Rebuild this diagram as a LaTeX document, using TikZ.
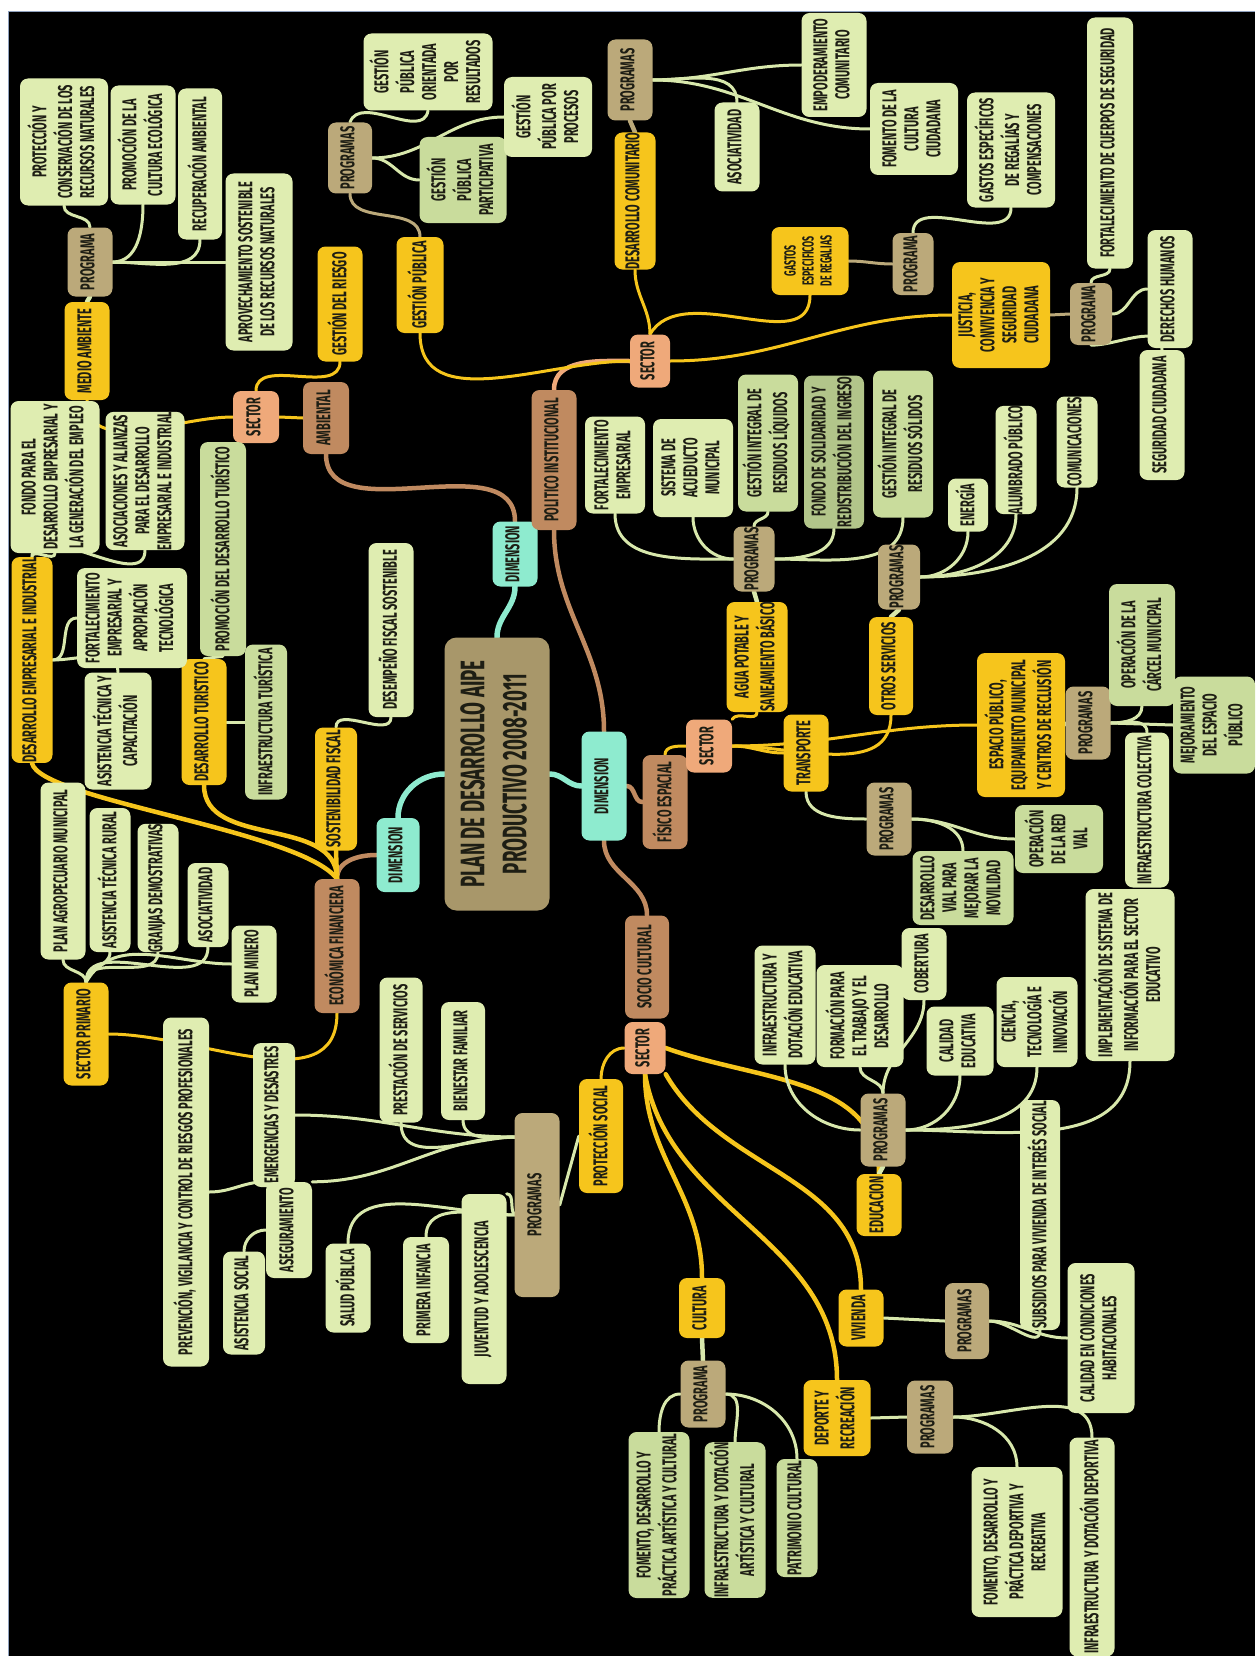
\documentclass[tikz,border=0pt]{standalone}
\usepackage{fontspec}
\usepackage{graphicx}
\newfontfamily\mapfont{Fira Sans}[FakeStretch=0.55]
\usetikzlibrary{backgrounds}
\definecolor{leafA}{HTML}{DFEDB1}
\definecolor{leafB}{HTML}{C9DC9C}
\definecolor{leafC}{HTML}{B2C58A}
\definecolor{tan}{HTML}{BBA97A}
\definecolor{rootc}{HTML}{A8976A}
\definecolor{gold}{HTML}{F6C51C}
\definecolor{salmon}{HTML}{EFA97A}
\definecolor{brownc}{HTML}{C08A60}
\definecolor{aqua}{HTML}{8EEBCF}
\definecolor{ink}{HTML}{1E1E14}
\definecolor{frame}{HTML}{8FA1BE}
\definecolor{pale}{HTML}{D8E8AC}
\newcommand{\vt}[1]{\rotatebox{90}{\begin{tabular}{@{}c@{}}#1\end{tabular}}}

\begin{document}
\begin{tikzpicture}[x=1pt, y=1pt,
    box/.style={rounded corners=8pt, inner sep=0pt, text=ink,
        font=\mapfont\bfseries\fontsize{20}{22}\selectfont},
    sz/.style 2 args={minimum width=#1pt, minimum height=#2pt},
    leaf/.style={box, fill=leafA},
    leafb/.style={box, fill=leafB},
    leafc/.style={box, fill=leafC},
    prog/.style={box, fill=tan},
    area/.style={box, fill=gold},
    sector/.style={box, fill=salmon},
    branch/.style={box, fill=brownc},
    dimbox/.style={box, fill=aqua},
    rootbox/.style={box, fill=rootc, rounded corners=12pt,
        font=\mapfont\bfseries\fontsize{34}{42}\selectfont},
    conn/.style={draw=#1, line width=3pt, line cap=round},
    thick conn/.style={draw=#1, line width=4.5pt, line cap=round}
]
\useasboundingbox (0,0) rectangle (1255,-1656);
\begin{scope}[on background layer]
    \fill[white] (0,0) rectangle (1255,-1656);
    \fill[black] (8.5,-11.5) rectangle (1255,-1656);
    \draw[frame, line width=1.5pt] (8.5,-1656) -- (8.5,-11.5) -- (1255,-11.5);
\end{scope}

% centre and dimensions
\node[rootbox, sz={105}{273}] (root) at (497,-774) {\vt{PLAN DE DESARROLLO AIPE\\PRODUCTIVO 2008-2011}};
\node[dimbox, sz={45}{65}] (dimA) at (515,-554) {\vt{DIMENSION}};
\node[dimbox, sz={45}{109}] (dimB) at (604,-786) {\vt{DIMENSION}};
\node[dimbox, sz={43}{74}] (dimC) at (398,-855) {\vt{DIMENSION}};

% ambiental
\node[branch, sz={46}{72}] (amb) at (326,-418) {\vt{AMBIENTAL}};
\node[sector, sz={46}{52}] (secAm) at (256,-417) {\vt{SECTOR}};
\node[area, sz={45}{98}] (medA) at (87,-351) {\vt{MEDIO AMBIENTE}};
\node[area, sz={45}{115}] (gesR) at (340,-304) {\vt{GESTIÓN DEL RIESGO}};
\node[prog, sz={45}{69}] (progAm) at (90,-262) {\vt{PROGRAMA}};
\node[leaf, sz={88}{127}] (protR) at (64,-142) {\vt{PROTECCIÓN Y\\CONSERVACIÓN DE LOS\\RECURSOS NATURALES}};
\node[leaf, sz={65}{119}] (promC) at (143,-145) {\vt{PROMOCIÓN DE LA\\CULTURA ECOLÓGICA}};
\node[leaf, sz={44}{151}] (recA) at (200,-164) {\vt{RECUPERACIÓN AMBIENTAL}};
\node[leaf, sz={67}{177}] (aprov) at (259,-262) {\vt{APROVECHAMIENTO SOSTENIBLE\\DE LOS RECURSOS NATURALES}};

% politico institucional
\node[branch, sz={45}{140}] (polI) at (554,-460) {\vt{POLITICO INSTITUCIONAL}};
\node[sector, sz={40}{53}] (secP) at (650,-361) {\vt{SECTOR}};
\node[area, sz={47}{96}] (gesP) at (420,-285) {\vt{GESTIÓN PÚBLICA}};
\node[prog, sz={44}{71}] (progP) at (350,-158) {\vt{PROGRAMAS}};
\node[leaf, sz={129}{77}] (ori) at (428,-72) {\vt{GESTIÓN\\PÚBLICA\\ORIENTADA\\POR\\RESULTADOS}};
\node[leafb, sz={87}{86}] (par) at (463,-180) {\vt{GESTIÓN\\PÚBLICA\\PARTICIPATIVA}};
\node[leaf, sz={88}{80}] (proc) at (548,-117) {\vt{GESTIÓN\\PÚBLICA POR\\PROCESOS}};
\node[area, sz={41}{136}] (desC) at (635,-201) {\vt{DESARROLLO COMUNITARIO}};
\node[prog, sz={45}{81}] (progC) at (630,-80) {\vt{PROGRAMAS}};
\node[leaf, sz={45}{89}] (aso) at (737,-147) {\vt{ASOCIATIVIDAD}};
\node[leaf, sz={65}{104}] (emp) at (834,-65) {\vt{EMPODERAMIENTO\\COMUNITARIO}};
\node[leaf, sz={88}{92}] (fomC) at (914,-129) {\vt{FOMENTO DE LA\\CULTURA\\CIUDADANA}};
\node[area, sz={77}{68}, font=\mapfont\bfseries\fontsize{16}{18}\selectfont] (gasR) at (810,-261) {\vt{GASTOS\\ESPECIFICOS\\DE REGALIAS}};
\node[prog, sz={41}{62}] (progG) at (913,-264) {\vt{PROGRAMA}};
\node[leaf, sz={88}{115}] (gasC) at (1011,-150) {\vt{GASTOS ESPECÍFICOS\\DE REGALÍAS Y\\COMPENSACIONES}};
\node[area, sz={98}{106}] (jus) at (1001,-315) {\vt{JUSTICIA,\\CONVIVENCIA Y\\SEGURIDAD\\CIUDADANA}};
\node[prog, sz={42}{62}] (progJ) at (1091,-314) {\vt{PROGRAMA}};
\node[leaf, sz={46}{251}] (fortC) at (1110,-143) {\vt{FORTALECIMIENTO DE CUERPOS DE SEGURIDAD}};
\node[leaf, sz={45}{118}] (der) at (1170,-289) {\vt{DERECHOS HUMANOS}};
\node[leaf, sz={45}{130}] (seg) at (1162,-415) {\vt{SEGURIDAD CIUDADANA}};

% fisico espacial
\node[branch, sz={45}{94}] (fis) at (665,-802) {\vt{FÍSICO ESPACIAL}};
\node[sector, sz={46}{53}] (secF) at (709,-746) {\vt{SECTOR}};
\node[area, sz={61}{110}] (agua) at (757,-657) {\vt{AGUA POTABLE Y\\SANEAMIENTO BÁSICO}};
\node[prog, sz={41}{65}] (progA) at (754,-559) {\vt{PROGRAMAS}};
\node[leaf, sz={60}{97}] (fortE) at (615,-465) {\vt{FORTALECIMIENTO\\EMPRESARIAL}};
\node[leaf, sz={80}{98}] (acu) at (693,-468) {\vt{SISTEMA DE\\ACUEDUCTO\\MUNICIPAL}};
\node[leafb, sz={60}{137}] (resL) at (768,-443) {\vt{GESTIÓN INTEGRAL DE\\RESIDUOS LÍQUIDOS}};
\node[leafc, sz={60}{153}] (fondoS) at (834,-452) {\vt{FONDO DE SOLIDARIDAD Y\\REDISTRIBUCIÓN DEL INGRESO}};
\node[leafb, sz={60}{147}] (resS) at (903,-444) {\vt{GESTIÓN INTEGRAL DE\\RESIDUOS SÓLIDOS}};
\node[area, sz={44}{98}] (otros) at (891,-666) {\vt{OTROS SERVICIOS}};
\node[prog, sz={42}{65}] (progO) at (899,-577) {\vt{PROGRAMAS}};
\node[leaf, sz={40}{53}] (ene) at (968,-505) {\vt{ENERGÍA}};
\node[leaf, sz={41}{105}] (alu) at (1016,-460) {\vt{ALUMBRADO PÚBLICO}};
\node[leaf, sz={41}{91}] (com) at (1077,-442) {\vt{COMUNICACIONES}};
\node[area, sz={88}{144}] (esp) at (1021,-725) {\vt{ESPACIO PÚBLICO,\\EQUIPAMIENTO MUNICIPAL\\Y CENTROS DE RECLUSIÓN}};
\node[prog, sz={45}{73}] (progE) at (1088,-723) {\vt{PROGRAMAS}};
\node[leafb, sz={66}{122}] (carc) at (1142,-645) {\vt{OPERACIÓN DE LA\\CÁRCEL MUNICIPAL}};
\node[leafb, sz={82}{97}] (mej) at (1214,-725) {\vt{MEJORAMIENTO\\DEL ESPACIO\\PÚBLICO}};
\node[leaf, sz={44}{155}] (infC) at (1147,-810) {\vt{INFRAESTRUCTURA COLECTIVA}};
\node[area, sz={45}{77}] (trans) at (806,-753) {\vt{TRANSPORTE}};
\node[prog, sz={45}{73}] (progT) at (889,-819) {\vt{PROGRAMAS}};
\node[leafb, sz={88}{68}] (redV) at (1059,-839) {\vt{OPERACIÓN\\DE LA RED\\VIAL}};
\node[leafb, sz={101}{74}] (desV) at (963,-888) {\vt{DESARROLLO\\VIAL PARA\\MEJORAR LA\\MOVILIDAD}};

% socio cultural
\node[branch, sz={44}{103}] (socio) at (647,-967) {\vt{SOCIO CULTURAL}};
\node[sector, sz={41}{52}] (secS) at (645,-1048) {\vt{SECTOR}};
\node[area, sz={44}{114}] (protS) at (601,-1136) {\vt{PROTECCIÓN SOCIAL}};
\node[prog, sz={45}{184}] (progS) at (537,-1205) {\vt{PROGRAMAS}};
\coordinate (pS) at (517,-1137);
\coordinate (pT) at (517,-1215);
\node[leaf, sz={44}{118}] (bien) at (463,-1061) {\vt{BIENESTAR FAMILIAR}};
\node[leaf, sz={43}{145}] (prest) at (401,-1050) {\vt{PRESTACIÓN DE SERVICIOS}};
\node[leaf, sz={42}{144}] (emerg) at (274,-1115) {\vt{EMERGENCIAS Y DESASTRES}};
\node[leaf, sz={46}{96}] (aseg) at (289,-1230) {\vt{ASEGURAMIENTO}};
\node[leaf, sz={46}{349}] (prev) at (186,-1192) {\vt{PREVENCIÓN, VIGILANCIA Y CONTROL DE RIESGOS PROFESIONALES}};
\node[leaf, sz={42}{103}] (asisS) at (244,-1303) {\vt{ASISTENCIA SOCIAL}};
\node[leaf, sz={45}{89}] (salud) at (348,-1288) {\vt{SALUD PÚBLICA}};
\node[leaf, sz={46}{106}] (prim) at (426,-1290) {\vt{PRIMERA INFANCIA}};
\node[leaf, sz={45}{190}] (juv) at (484,-1289) {\vt{JUVENTUD Y ADOLESCENCIA}};
\node[area, sz={46}{60}] (cult) at (702,-1308) {\vt{CULTURA}};
\node[prog, sz={45}{67}] (progCu) at (703,-1394) {\vt{PROGRAMA}};
\node[leafb, sz={61}{166}] (fomA) at (659,-1515) {\vt{FOMENTO, DESARROLLO Y\\PRÁCTICA ARTÍSTICA Y CULTURAL}};
\node[leafb, sz={61}{155}] (infA) at (735,-1520) {\vt{INFRAESTRUCTURA Y DOTACIÓN\\ARTÍSTICA Y CULTURAL}};
\node[leafb, sz={41}{118}] (pat) at (797,-1518) {\vt{PATRIMONIO CULTURAL}};
\node[area, sz={67}{76}] (dep) at (837,-1418) {\vt{DEPORTE Y\\RECREACIÓN}};
\node[prog, sz={46}{73}] (progD) at (930,-1417) {\vt{PROGRAMAS}};
\node[leaf, sz={91}{150}] (fomD) at (1017,-1542) {\vt{FOMENTO, DESARROLLO Y\\PRÁCTICA DEPORTIVA Y\\RECREATIVA}};
\node[leaf, sz={45}{219}] (infD) at (1092,-1547) {\vt{INFRAESTRUCTURA Y DOTACIÓN DEPORTIVA}};
\node[area, sz={45}{57}] (viv) at (861,-1318) {\vt{VIVIENDA}};
\node[prog, sz={44}{76}] (progV) at (967,-1321) {\vt{PROGRAMAS}};
\node[leaf, sz={40}{230}] (subs) at (1040,-1215) {\vt{SUBSIDIOS PARA VIVIENDA DE INTERÉS SOCIAL}};
\node[leaf, sz={67}{150}] (calC) at (1101,-1338) {\vt{CALIDAD EN CONDICIONES\\HABITACIONALES}};
\node[area, sz={45}{62}] (edu) at (879,-1205) {\vt{EDUCACION}};
\node[prog, sz={45}{73}] (progEd) at (883,-1130) {\vt{PROGRAMAS}};
\node[leaf, sz={61}{119}] (infE) at (785,-1005) {\vt{INFRAESTRUCTURA Y\\DOTACIÓN EDUCATIVA}};
\node[leaf, sz={87}{102}] (form) at (860,-1016) {\vt{FORMACIÓN PARA\\EL TRABAJO Y EL\\DESARROLLO}};
\node[leaf, sz={45}{72}] (cob) at (924,-964) {\vt{COBERTURA}};
\node[leaf, sz={67}{69}] (calE) at (960,-1041) {\vt{CALIDAD\\EDUCATIVA}};
\node[leaf, sz={81}{90}] (cien) at (1037,-1022) {\vt{CIENCIA,\\TECNOLOGÍA E\\INNOVACIÓN}};
\node[leaf, sz={89}{172}] (impl) at (1130,-975) {\vt{IMPLEMENTACIÓN DE SISTEMA DE\\INFORMACIÓN PARA EL SECTOR\\EDUCATIVO}};

% economica financiera
\node[branch, sz={45}{134}] (econ) at (337,-946) {\vt{ECONÓMICA FINANCIERA}};
\node[area, sz={42}{123}] (sosF) at (336,-789) {\vt{SOSTENIBILIDAD FISCAL}};
\node[leaf, sz={45}{174}] (desem) at (391,-630) {\vt{DESEMPEÑO FISCAL SOSTENIBLE}};
\node[area, sz={45}{126}] (desT) at (204,-722) {\vt{DESARROLLO TURISTICO}};
\node[leafb, sz={46}{214}] (promT) at (223,-549) {\vt{PROMOCIÓN DEL DESARROLLO TURÍSTICO}};
\node[leafb, sz={42}{155}] (infT) at (266,-722) {\vt{INFRAESTRUCTURA TURÍSTICA}};
\node[area, sz={41}{190}] (desE) at (32,-660) {\vt{DESARROLLO EMPRESARIAL E INDUSTRIAL}};
\node[leaf, sz={89}{152}] (fondo) at (55,-477) {\vt{FONDO PARA EL\\DESARROLLO EMPRESARIAL Y\\LA GENERACIÓN DEL EMPLEO}};
\node[leaf, sz={79}{138}] (asoc) at (145,-481) {\vt{ASOCIACIONES Y ALIANZAS\\PARA EL DESARROLLO\\EMPRESARIAL E INDUSTRIAL}};
\node[leaf, sz={110}{100}] (fortA) at (132,-618) {\vt{FORTALECIMIENTO\\EMPRESARIAL Y\\APROPIACIÓN\\TECNOLÓGICA}};
\node[leaf, sz={67}{117}] (asisT) at (118,-731) {\vt{ASISTENCIA TÉCNICA Y\\CAPACITACIÓN}};
\node[area, sz={45}{103}] (secPr) at (86,-1034) {\vt{SECTOR PRIMARIO}};
\node[leaf, sz={45}{177}] (planA) at (63,-871) {\vt{PLAN AGROPECUARIO MUNICIPAL}};
\node[leaf, sz={41}{144}] (asisR) at (110,-880) {\vt{ASISTENCIA TÉCNICA RURAL}};
\node[leaf, sz={41}{119}] (granj) at (158,-888) {\vt{GRANJAS DEMOSTRATIVAS}};
\node[leaf, sz={41}{84}] (asoP) at (208,-905) {\vt{ASOCIATIVIDAD}};
\node[leaf, sz={45}{77}] (minero) at (254,-964) {\vt{PLAN MINERO}};

\begin{scope}[on background layer]
% centre to dimensions
\draw[thick conn=aqua, line width=5.5pt] (root.north) to[out=90,in=-90] (dimA.south);
\draw[thick conn=aqua, line width=5.5pt] (root.east) to[out=0,in=180] (dimB.west);
\draw[thick conn=aqua, line width=5.5pt] (root.west) to[out=180,in=90] (dimC.north);
% dimensions to axes
\draw[thick conn=brownc] (dimA.north) to[out=90,in=-90] (amb.south);
\draw[thick conn=brownc] (dimB.north) to[out=90,in=-90] (polI.south);
\draw[thick conn=brownc] (dimB.south) to[out=-90,in=90] (socio.north);
\draw[thick conn=brownc] (dimB.east) to[out=0,in=180] (fis.west);
\draw[thick conn=brownc] (dimC.west) to[out=180,in=90] (econ.north);
% axes to sectors
\draw[conn=gold] (amb.west) -- (secAm.east);
\draw[thick conn=salmon] (polI.north) to[out=90,in=180] (secP.west);
\draw[conn=gold] (fis.north) to[out=90,in=180] (secF.west);
% sectors to areas
\draw[conn=gold] (secAm.west) to[out=180,in=-90] (medA.south);
\draw[conn=gold] (secAm.north) to[out=90,in=-90] (gesR.south);
\draw[conn=gold] (secP.west) to[out=180,in=-90] (gesP.south);
\draw[conn=gold] (secP.north) to[out=90,in=-90] (desC.south);
\draw[conn=gold] (secP.north) to[out=60,in=-90] (gasR.south);
\draw[conn=gold] (secP.east) to[out=0,in=180] (jus.west);
\draw[conn=gold] (secF.north east) to[out=60,in=-90] (agua.south);
\draw[conn=gold] (secF.east) to[out=0,in=180] (trans.west);
\draw[conn=gold] (secF.east) to[out=0,in=-90] (otros.south);
\draw[conn=gold] (secF.east) to[out=0,in=180] (esp.west);
\draw[conn=gold] (secS.west) to[out=180,in=90] (protS.north);
\draw[thick conn=gold] (secS.south) to[out=-90,in=90] (cult.north);
\draw[thick conn=gold] (secS.south) to[out=-80,in=90] (dep.north);
\draw[thick conn=gold] (secS.south east) to[out=-60,in=90] (viv.north);
\draw[thick conn=gold] (secS.east) to[out=-20,in=90] (edu.north);
\draw[thick conn=gold] (econ.north) .. controls (300,-830) and (40,-800) .. (desE.south);
\draw[thick conn=gold] (econ.north) to[out=90,in=-90] (desT.south);
\draw[thick conn=gold] (econ.north) -- (sosF.south);
\draw[conn=gold] (econ.south) to[out=-90,in=0] (secPr.east);
% areas to programmes
\draw[thick conn=pale] (medA.north) -- (progAm.south);
\draw[conn=tan] (gesP.north) to[out=90,in=-90] (progP.south);
\draw[thick conn=tan] (desC.north) -- (progC.south);
\draw[conn=tan] (gasR.east) to[out=0,in=180] (progG.west);
\draw[conn=tan] (jus.east) -- (progJ.west);
\draw[thick conn=pale] (agua.north) -- (progA.south);
\draw[thick conn=pale] (otros.north) -- (progO.south);
\draw[conn=pale] (esp.east) -- (progE.west);
\draw[conn=pale] (trans.south) to[out=-90,in=180] (progT.west);
\draw[conn=pale] (protS.west) -- (progS.east);
\draw[thick conn=pale] (cult.south) -- (progCu.north);
\draw[conn=pale] (dep.east) -- (progD.west);
\draw[conn=pale] (viv.east) -- (progV.west);
\draw[thick conn=pale] (edu.north) -- (progEd.south);
% programmes to leaves
\draw[conn=pale] (progAm.north) to[out=90,in=-90] (protR.south);
\draw[conn=pale] (progAm.east) to[out=0,in=-90] (promC.south);
\draw[conn=pale] (progAm.east) to[out=0,in=-90] (recA.south);
\draw[conn=pale] (progAm.east) -- (aprov.west);
\draw[conn=pale] (progP.north) to[out=70,in=-100] (ori.south);
\draw[conn=pale] (progP.east) to[out=0,in=180] (par.west);
\draw[conn=pale] (progP.east) to[out=0,in=180] (proc.west);
\draw[conn=pale] (progC.east) to[out=0,in=90] (aso.north);
\draw[conn=pale] (progC.east) to[out=0,in=180] (emp.west);
\draw[conn=pale] (progC.east) to[out=0,in=180] (fomC.west);
\draw[conn=pale] (progG.north) to[out=90,in=-90] (gasC.south);
\draw[conn=pale] (progJ.north) to[out=90,in=-90] (fortC.south);
\draw[conn=pale] (progJ.east) to[out=0,in=180] (der.west);
\draw[conn=pale] (progJ.south) to[out=0,in=90] (seg.north);
\draw[conn=pale] (fortE.south) to[out=-90,in=180] (progA.west);
\draw[conn=pale] (acu.south) to[out=-90,in=180] (progA.west);
\draw[conn=pale] (resL.south) to[out=-90,in=90] (progA.north);
\draw[conn=pale] (fondoS.south) to[out=-90,in=0] (progA.east);
\draw[conn=pale] (resS.south) to[out=-90,in=0] (progA.east);
\draw[conn=pale] (ene.south) to[out=-90,in=0] (progO.east);
\draw[conn=pale] (alu.south) to[out=-90,in=0] (progO.east);
\draw[conn=pale] (com.south) to[out=-90,in=0] (progO.east);
\draw[conn=pale] (progE.east) to[out=0,in=-90] (carc.south);
\draw[conn=pale] (progE.east) -- (mej.west);
\draw[conn=pale] (progE.east) to[out=0,in=90] (infC.north);
\draw[conn=pale] (progT.east) to[out=0,in=180] (redV.west);
\draw[conn=pale] (progT.east) to[out=0,in=90] (desV.north);
\draw[conn=pale] (pS) to[out=180,in=-90] (bien.south);
\draw[conn=pale] (pS) to[out=180,in=-90] (prest.south);
\draw[conn=pale] (pS) to[out=180,in=0] (emerg.east);
\draw[conn=pale] (pS) to[out=180,in=0] (aseg.north east);
\draw[conn=pale] (aseg.north west) to[out=180,in=0] (prev.east);
\draw[conn=pale] (aseg.west) to[out=180,in=90] (asisS.north);
\draw[conn=pale] (pT) to[out=180,in=90] (salud.north);
\draw[conn=pale] (pT) to[out=180,in=90] (prim.north);
\draw[conn=pale] (pT) to[out=180,in=0] (juv.north east);
\draw[conn=pale] (progCu.west) to[out=180,in=90] (fomA.north);
\draw[conn=pale] (progCu.east) to[out=0,in=90] (infA.north);
\draw[conn=pale] (progCu.east) to[out=0,in=90] (pat.north);
\draw[conn=pale] (progD.east) to[out=0,in=90] (fomD.north);
\draw[conn=pale] (progD.east) to[out=0,in=90] (infD.north);
\draw[conn=pale] (progV.east) to[out=0,in=-90] (subs.south);
\draw[conn=pale] (progV.east) to[out=0,in=180] (calC.west);
\draw[conn=pale] (infE.south) to[out=-90,in=180] (progEd.west);
\draw[conn=pale] (form.south) to[out=-90,in=90] (progEd.north);
\draw[conn=pale] (cob.south) to[out=-90,in=90] (progEd.north);
\draw[conn=pale] (calE.south) to[out=-90,in=0] (progEd.east);
\draw[conn=pale] (cien.south) to[out=-90,in=0] (progEd.east);
\draw[conn=pale] (impl.south) to[out=-90,in=0] (progEd.east);
\draw[conn=pale] (desE.north) to[out=90,in=-90] (fondo.south);
\draw[conn=pale] (desE.north) to[out=90,in=-90] (asoc.south);
\draw[conn=pale] (desE.east) to[out=0,in=180] (fortA.west);
\draw[conn=pale] (desE.east) to[out=0,in=90] (asisT.north);
\draw[conn=pale] (desT.north) -- (promT.south);
\draw[conn=pale] (desT.east) -- (infT.west);
\draw[conn=pale] (sosF.north) to[out=90,in=-90] (desem.south);
\draw[conn=pale] (secPr.north) to[out=90,in=-90] (planA.south);
\draw[conn=pale] (secPr.north) to[out=90,in=-90] (asisR.south);
\draw[conn=pale] (secPr.north) to[out=90,in=-90] (granj.south);
\draw[conn=pale] (secPr.north) to[out=90,in=-90] (asoP.south);
\draw[conn=pale] (secPr.north) to[out=60,in=180] (minero.west);
\end{scope}
\end{tikzpicture}
\end{document}
